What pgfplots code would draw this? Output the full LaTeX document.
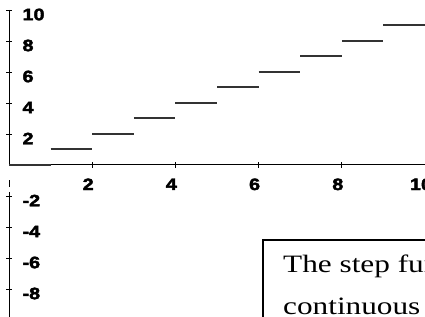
\documentclass[border=0pt]{standalone}
\usepackage{fontspec}
\setmainfont{Liberation Serif}
\newfontfamily\tickfont[FakeStretch=1.2, BoldFeatures={FakeBold=2.5}]{Liberation Sans}
\newfontfamily\boxfont[FakeStretch=1.25]{Liberation Serif}
\usepackage{pgfplots}
\pgfplotsset{compat=1.18}
\begin{document}
\begin{tikzpicture}
\useasboundingbox (0,0) rectangle (425bp,317bp);
\clip (0,0) rectangle (425bp,317bp);
\begin{axis}[
  anchor=origin, at={(9bp,152bp)},
  x=41.6bp, y=15.5bp,
  xmin=0, xmax=10.5, ymin=-10.6, ymax=10,
  axis lines=middle,
  x axis line style={line width=1bp, black, -},
  y axis line style={draw=none},
  xtick={2,4,6,8,10}, ytick={-10,-8,-6,-4,-2,2,4,6,8,10},
  tick style={black, line width=0.8bp},
  major tick length=6bp,
  tick align=center,
  /pgf/number format/assume math mode=true,
  ticklabel style={font=\tickfont\bfseries\fontsize{16.5bp}{16.5bp}\selectfont, text=black},
  xticklabel style={anchor=north, yshift=-7bp, xshift=-4bp},
  yticklabel style={anchor=west, xshift=13bp, yshift=-4.5bp},
  clip=false,
]
\draw[line width=1bp] (axis cs:0,10) -- (axis cs:0,0);
\draw[line width=1bp] (axis cs:0,-0.97) -- (axis cs:0,-1.42);
\draw[line width=1bp] (axis cs:0,-1.74) -- (axis cs:0,-10.6);
\addplot[jump mark left, line width=2bp, black!80, mark=none]
  coordinates {(0,0) (1,1) (2,2) (3,3) (4,4) (5,5) (6,6) (7,7) (8,8) (9,9) (10,10)};
\end{axis}
\draw[line width=1.2bp, fill=white] (263bp,77bp) rectangle (520bp,-40bp);
\node[anchor=base west, inner sep=0, font=\boxfont\fontsize{25bp}{30bp}\selectfont] at (283bp,44bp) {The step function is not};
\node[anchor=base west, inner sep=0, font=\boxfont\fontsize{25bp}{30bp}\selectfont] at (283bp,3bp) {continuous at each integer.};
\end{tikzpicture}
\end{document}
